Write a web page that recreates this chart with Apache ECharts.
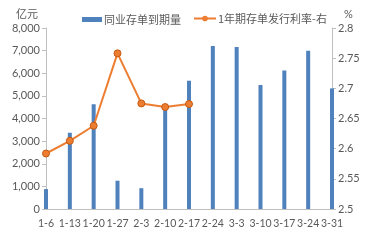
<!DOCTYPE html>
<html>
<head>
<meta charset="utf-8">
<script src="https://cdn.jsdelivr.net/npm/echarts@6/dist/echarts.min.js"></script>
<style>html,body{margin:0;padding:0;background:#fff}#c{width:378px;height:240px}</style>
</head>
<body>
<div id="c"></div>
<script>
// Weekly interbank CD maturities (100m yuan) and 1Y CD issuance rate (%)
const categories = ['1-6','1-13','1-20','1-27','2-3','2-10','2-17','2-24','3-3','3-10','3-17','3-24','3-31'];
const maturityValues = [880, 3370, 4630, 1250, 920, 4590, 5670, 7200, 7160, 5480, 6120, 6990, 5330];
const rateValues = [2.592, 2.613, 2.638, 2.758, 2.675, 2.669, 2.674];
const barName = '同业存单到期量';
const lineName = '1年期存单发行利率-右';

const cjkFont = '"Noto Sans CJK SC", sans-serif';
const numFont = 'Lato, "Noto Sans", sans-serif';
const textColor = '#595959';
const axisColor = '#bfbfbf';

const chart = echarts.init(document.getElementById('c'));
chart.setOption({
  animation: false,
  textStyle: { fontFamily: numFont },
  title: [
    { text: '亿元', left: 11, top: 3, textStyle: { fontSize: 11, color: textColor, fontWeight: 'normal', fontFamily: cjkFont } },
    { text: '%', left: 339, top: 4, textStyle: { fontSize: 11, color: textColor, fontWeight: 'normal', fontFamily: numFont } }
  ],
  legend: [
    {
      data: [{ name: barName, icon: 'rect' }],
      left: 77, top: 9, itemWidth: 20, itemHeight: 5, itemGap: 4,
      textStyle: { fontSize: 11, color: textColor, fontFamily: cjkFont, padding: [0, 0, 0, -3] }
    },
    {
      data: [{ name: lineName, itemStyle: { borderWidth: 0 } }],
      left: 188, top: 8, itemWidth: 22, itemHeight: 7,
      textStyle: { fontSize: 11, color: textColor, fontFamily: cjkFont, padding: [0, 0, 0, -3] }
    }
  ],
  grid: { left: 46, right: 46, top: 28, bottom: 31, containLabel: false },
  xAxis: {
    type: 'category',
    data: categories,
    boundaryGap: false,
    axisLine: { lineStyle: { color: axisColor } },
    axisTick: { show: false },
    axisLabel: { color: textColor, fontSize: 10.5, margin: 9, interval: 0, fontFamily: numFont }
  },
  yAxis: [
    {
      type: 'value', min: 0, max: 8000, interval: 1000,
      axisLine: { show: true, lineStyle: { color: axisColor } },
      axisTick: { show: true, length: 4, lineStyle: { color: axisColor } },
      splitLine: { show: false },
      axisLabel: {
        color: textColor, fontSize: 11, margin: 6, fontFamily: numFont,
        formatter: v => v.toLocaleString('en-US')
      }
    },
    {
      type: 'value', min: 2.5, max: 2.8, interval: 0.05,
      axisLine: { show: true, lineStyle: { color: axisColor } },
      axisTick: { show: true, length: 4, lineStyle: { color: axisColor } },
      splitLine: { show: false },
      axisLabel: {
        color: textColor, fontSize: 11, margin: 6, fontFamily: numFont,
        formatter: v => String(parseFloat(v.toFixed(2)))
      }
    }
  ],
  series: [
    {
      name: barName,
      type: 'bar',
      data: maturityValues,
      barWidth: 4,
      itemStyle: { color: '#4F81BD' }
    },
    {
      name: lineName,
      type: 'line',
      yAxisIndex: 1,
      data: rateValues,
      symbol: 'circle',
      symbolSize: 7,
      lineStyle: { color: '#ED7D31', width: 2 },
      itemStyle: { color: '#ED7D31', borderColor: '#C65A11', borderWidth: 1 }
    }
  ]
});
</script>
</body>
</html>
